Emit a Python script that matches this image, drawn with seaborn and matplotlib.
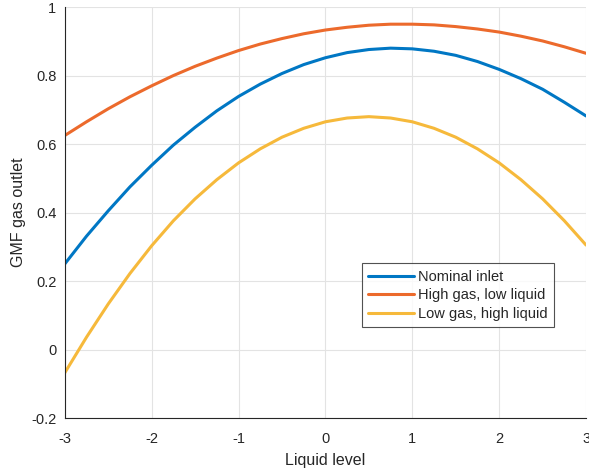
import numpy as np
import pandas as pd
import matplotlib
matplotlib.use("Agg")
import matplotlib.pyplot as plt
import seaborn as sns

# values
liquid_level = [-3, -2.75, -2.5, -2.25, -2, -1.75, -1.5, -1.25, -1, -0.75, -0.5, -0.25,
                0, 0.25, 0.5, 0.75, 1, 1.25, 1.5, 1.75, 2, 2.25, 2.5, 2.75, 3]
nominal = [0.250, 0.331, 0.405, 0.475, 0.538, 0.597, 0.649, 0.697, 0.739, 0.775, 0.806, 0.832,
           0.852, 0.867, 0.876, 0.880, 0.878, 0.871, 0.859, 0.841, 0.818, 0.791, 0.760, 0.722, 0.682]
high_gas = [0.625, 0.665, 0.703, 0.738, 0.770, 0.800, 0.827, 0.851, 0.873, 0.892, 0.908, 0.922,
            0.933, 0.941, 0.947, 0.950, 0.950, 0.948, 0.943, 0.936, 0.927, 0.915, 0.901, 0.884, 0.865]
low_gas = [-0.068, 0.036, 0.133, 0.222, 0.303, 0.376, 0.440, 0.496, 0.545, 0.586, 0.620, 0.646,
           0.665, 0.676, 0.680, 0.676, 0.665, 0.646, 0.620, 0.586, 0.545, 0.496, 0.440, 0.376, 0.305]
labels = ["Nominal inlet", "High gas, low liquid", "Low gas, high liquid"]
colors = ["#0077C4", "#EC6A2C", "#F6B93B"]

df = pd.concat([
    pd.DataFrame({"level": liquid_level, "gmf": vals, "case": lab})
    for lab, vals in zip(labels, [nominal, high_gas, low_gas])
])

sns.set_style("white")
plt.rcParams['font.family'] = ['Liberation Sans', 'DejaVu Sans']
plt.rcParams['axes.unicode_minus'] = False
plt.rcParams['lines.solid_joinstyle'] = 'round'

fig = plt.figure(figsize=(5.89, 4.71), dpi=100)
ax = fig.add_axes([0.110, 0.1125, 0.885, 0.8725])
sns.lineplot(data=df, x="level", y="gmf", hue="case", palette=colors,
             linewidth=2.2, ax=ax, legend=True)

ax.set_xlim(-3, 3)
ax.set_ylim(-0.2, 1)
ax.set_xticks(range(-3, 4))
ax.set_yticks([-0.2, 0, 0.2, 0.4, 0.6, 0.8, 1])
ax.set_yticklabels(["-0.2", "0", "0.2", "0.4", "0.6", "0.8", "1"])
ax.grid(True, color="#e3e3e3", linewidth=0.8)
ax.set_axisbelow(True)
for s in ["top", "right"]:
    ax.spines[s].set_visible(False)
for s in ["left", "bottom"]:
    ax.spines[s].set_color("#262626")
    ax.spines[s].set_linewidth(0.8)
ax.tick_params(direction="in", length=4, width=0.8, color="#262626",
               labelsize=10.5, labelcolor="#262626", pad=6)
ax.tick_params(axis="x", pad=10)
ax.set_xlabel("Liquid level", fontsize=11.5, color="#262626", labelpad=5)
ax.set_ylabel("GMF gas outlet", fontsize=11.5, color="#262626")

leg = ax.legend(loc="lower left", bbox_to_anchor=(0.57, 0.221), fontsize=10.5,
                frameon=True, fancybox=False, edgecolor="#262626",
                handlelength=3.1, handletextpad=0.3, borderpad=0.45,
                labelspacing=0.3, borderaxespad=0)
leg.get_frame().set_linewidth(0.8)
leg.set_title(None)

fig.savefig("out.png", dpi=100)
